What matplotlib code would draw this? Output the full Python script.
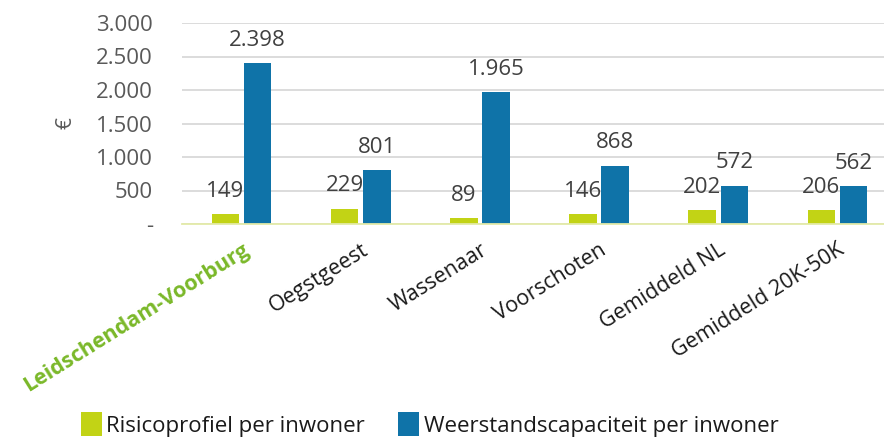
import matplotlib.pyplot as plt
import numpy as np

plt.rcParams['font.family'] = ['Open Sans', 'DejaVu Sans']

# data
categories = ['Leidschendam-Voorburg', 'Oegstgeest', 'Wassenaar', 'Voorschoten',
              'Gemiddeld NL', 'Gemiddeld 20K-50K']
risico = [149, 229, 89, 146, 202, 206]
weerstand = [2398, 801, 1965, 868, 572, 562]
series_names = ['Risicoprofiel per inwoner', 'Weerstandscapaciteit per inwoner']

green = '#c2d315'
blue = '#0f73a8'

def fmt(v):
    return f"{v:,}".replace(',', '.')

fig = plt.figure(figsize=(8.84, 4.37), dpi=100)
ax = fig.add_axes([182 / 884, 1 - 224 / 437, 715 / 884, 201 / 437])

x = np.arange(len(categories))
w = 0.23
off = 0.135
b1 = ax.bar(x - off, risico, w, color=green, label=series_names[0], zorder=3)
b2 = ax.bar(x + off, weerstand, w, color=blue, label=series_names[1], zorder=3)

for bars, vals in [(b1, risico), (b2, weerstand)]:
    for r, v in zip(bars, vals):
        ax.annotate(fmt(v), (r.get_x() + r.get_width() / 2, v), xytext=(0, 9),
                    textcoords='offset points', ha='center', va='bottom',
                    fontsize=16, color='#404040', zorder=4)

ax.set_xlim(-0.5, len(categories) - 0.5)
ax.set_ylim(0, 3000)
yt = np.arange(0, 3001, 500)
ax.set_yticks(yt)
ax.set_yticklabels(['-'] + [fmt(v) for v in yt[1:]], fontsize=16, color='#595959')
ax.tick_params(axis='y', length=0, pad=21)
ax.yaxis.grid(True, color='#d9d9d9', linewidth=1.3, zorder=0)
for s in ['top', 'right', 'left']:
    ax.spines[s].set_visible(False)
ax.spines['bottom'].set_color('#e3eaa8')
ax.spines['bottom'].set_linewidth(1.3)
ax.spines['bottom'].set_zorder(5)

ax.set_xticks(x)
ax.set_xticklabels(categories, rotation=32, ha='right', va='top',
                   rotation_mode='anchor', fontsize=15.5, color='#1a1a1a')
ax.tick_params(axis='x', length=0, pad=11)
lbl0 = ax.get_xticklabels()[0]
lbl0.set_color('#7ab829')
lbl0.set_fontweight('bold')

ax.set_ylabel('€', fontsize=15, color='#595959', labelpad=14)

fig.legend(loc='lower center', bbox_to_anchor=(0.486, -0.045), ncol=2, frameon=False,
           fontsize=16, handlelength=0.95, handleheight=1.3, handletextpad=0.2,
           columnspacing=1.5, labelcolor='#1a1a1a')

fig.savefig('out.png', dpi=100)
